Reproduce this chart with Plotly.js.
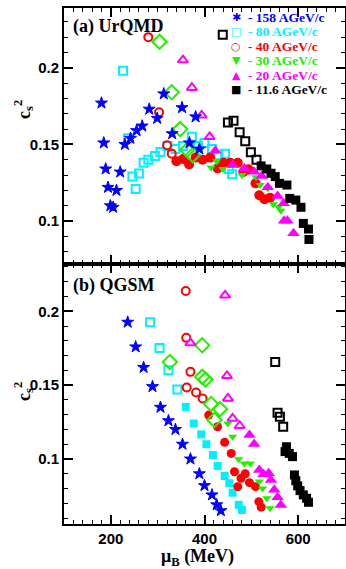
<!DOCTYPE html>
<html>
<head>
<meta charset="utf-8">
<script src="https://cdn.plot.ly/plotly-3.0.1.min.js"></script>
<style>html,body{margin:0;padding:0;background:#fff;}#chart{width:346px;height:569px;}</style>
</head>
<body>
<div id="chart"></div>
<script>
// ---------- (a) UrQMD ----------
var uq158x = [180,185,189,194,199,205,212,220,230,242,255,267,282,299,313,331,352,368,381,389];
var uq158y = [0.177,0.151,0.134,0.122,0.110,0.109,0.120,0.132,0.150,0.154,0.159,0.162,0.173,0.167,0.183,0.157,0.174,0.151,0.168,0.147];
var uq80x = [226,237,246,253,260,270,280,294,306,321,338,354,373,386,400,416,430,444,452,459];
var uq80y = [0.198,0.154,0.129,0.121,0.131,0.138,0.140,0.1425,0.145,0.149,0.147,0.149,0.155,0.149,0.151,0.147,0.143,0.144,0.134,0.1305];
var uq40openX = [280,303,320,330];
var uq40openY = [0.220,0.171,0.1495,0.144];
var uq40x = [340,354,367,381,396,412,428,440,455,471,483,494,509,517,528,540];
var uq40y = [0.139,0.1405,0.137,0.1414,0.140,0.1414,0.1344,0.138,0.138,0.138,0.132,0.1338,0.1246,0.1168,0.1142,0.1152];
var uq30openX = [304,330,348,363,375];
var uq30openY = [0.217,0.184,0.160,0.1464,0.143];
var uq30x = [414,426,439,480,510,519,535,547,558,563];
var uq30y = [0.135,0.139,0.134,0.130,0.1286,0.1235,0.1214,0.111,0.109,0.1067];
var uq20openX = [354,373,394,411];
var uq20openY = [0.205,0.187,0.169,0.155];
var uq20x = [423,460,485,506,522,535,556,569,570,577,590];
var uq20y = [0.1458,0.1366,0.1344,0.1322,0.1294,0.122,0.1163,0.1116,0.1002,0.1002,0.092];
var uq116openX = [439,450,462,475,487,499,511];
var uq116openY = [0.2216,0.1643,0.1654,0.158,0.152,0.1449,0.140];
var uq116x = [521,533,542,551,560,576,582,595,606,611,622,623];
var uq116y = [0.136,0.134,0.1312,0.129,0.1246,0.1235,0.1148,0.1137,0.109,0.0985,0.0948,0.088];

// ---------- (b) QGSM ----------
var qg158x = [236,253,270,289,306,323,338,353,370,389,400,416,426,435];
var qg158y = [0.1926,0.1759,0.162,0.149,0.135,0.1259,0.120,0.110,0.100,0.090,0.082,0.0757,0.069,0.065];
var qg80openX = [284,304,323,342];
var qg80openY = [0.1926,0.1752,0.160,0.147];
var qg80x = [360,377,393,404,418,428,443,453,460,473,480];
var qg80y = [0.1353,0.124,0.1167,0.110,0.1027,0.0953,0.0885,0.0836,0.0772,0.069,0.0655];
var qg40openX = [360,361,362,370,382,396];
var qg40openY = [0.2137,0.182,0.1484,0.159,0.145,0.141];
var qg40x = [409,428,443,457,464,471,478,487,496,509,516,521];
var qg40y = [0.1297,0.1218,0.1113,0.1038,0.0914,0.0813,0.087,0.090,0.084,0.0813,0.0711,0.0674];
var qg30openX = [326,395,395,402,414,421,433];
var qg30openY = [0.1657,0.177,0.1556,0.1538,0.1372,0.1264,0.1338];
var qg30x = [450,460,473,485,498,517,524,533,540];
var qg30y = [0.124,0.115,0.0998,0.097,0.097,0.0847,0.080,0.0734,0.0667];
var qg20openX = [370,444,448,450,460,475];
var qg20openY = [0.1786,0.2108,0.1563,0.141,0.1275,0.1225];
var qg20x = [496,506,517,526,537,542,549,556,563];
var qg20y = [0.1162,0.1101,0.0926,0.0897,0.0903,0.0858,0.0791,0.0741,0.0689];
var qg116openX = [551,556,561,568];
var qg116openY = [0.1657,0.1313,0.1286,0.1218];
var qg116x = [572,575,581,588,592,595,599,604,611,618,622];
var qg116y = [0.105,0.1083,0.1038,0.1016,0.0892,0.0853,0.0818,0.0786,0.0757,0.0734,0.0707];

// ---------- legend ----------
var legendLabels = ["- 158 AGeV/c","- 80 AGeV/c","- 40 AGeV/c","- 30 AGeV/c","- 20 AGeV/c","- 11.6 AGeV/c"];
var legendSymbols = ["\u2731","\u25A1","\u25CB","\u25BC","\u25B2","\u25A0"];
var legendColors = ["#0000ff","#00f0ff","#ff0000","#22ee00","#ff00ff","#000000"];
var xTickVals = [200,400,600];

var BLUE="#0000ff", CYAN="#00f0ff", RED="#ff0000", GREEN="#22ee00", MAG="#ff00ff", BLK="#000000";

function tr(x,y,ax,sym,col,size,open){
  var m = {symbol:sym,size:size,color:col,line:{color:col,width:open?2:0}};
  if(sym==='star'){m.line={color:col,width:1};}
  return {type:'scatter',mode:'markers',x:x,y:y,xaxis:ax[0],yaxis:ax[1],marker:m,showlegend:false,hoverinfo:'x+y'};
}
var A=['x','y'], B=['x2','y2'];
var data = [
  tr(uq80x,uq80y,A,'square-open',CYAN,8,true),
  tr(uq40openX,uq40openY,A,'circle-open',RED,8,true),
  tr(uq40x,uq40y,A,'circle',RED,10,false),
  tr(uq30openX,uq30openY,A,'diamond-open',GREEN,11,true),
  tr(uq30x,uq30y,A,'triangle-down',GREEN,8,false),
  tr(uq20openX,uq20openY,A,'triangle-up-open',MAG,9,true),
  tr(uq20x,uq20y,A,'triangle-up',MAG,11,false),
  tr(uq116openX,uq116openY,A,'square-open',BLK,8,true),
  tr(uq116x,uq116y,A,'square',BLK,9,false),
  tr(uq158x,uq158y,A,'star',BLUE,9,false),

  tr(qg80openX,qg80openY,B,'square-open',CYAN,8,true),
  tr(qg80x,qg80y,B,'square',CYAN,8,false),
  tr(qg40openX,qg40openY,B,'circle-open',RED,8,true),
  tr(qg40x,qg40y,B,'circle',RED,9,false),
  tr(qg30openX,qg30openY,B,'diamond-open',GREEN,11,true),
  tr(qg30x,qg30y,B,'triangle-down',GREEN,8,false),
  tr(qg20openX,qg20openY,B,'triangle-up-open',MAG,9,true),
  tr(qg20x,qg20y,B,'triangle-up',MAG,11,false),
  tr(qg116openX,qg116openY,B,'square-open',BLK,8,true),
  tr(qg116x,qg116y,B,'square',BLK,9,false),
  tr(qg158x,qg158y,B,'star',BLUE,9,false)
];

var W=346,H=569,ML=64,MR=1,MT=8,MB=45;
var PW=W-ML-MR, PH=H-MT-MB;
function px2x(p){return (p-ML)/PW;}
function px2y(p){return (H-MB-p)/PH;}
var split = px2y(264);

var tickFont={family:'Liberation Sans, Arial, sans-serif',size:15,color:'#000',weight:'bold'};
function xax(showLabels, anchor){
  return {domain:[0,1],range:[100,700],anchor:anchor,tickvals:xTickVals,ticktext:xTickVals.map(String),
    showticklabels:showLabels,ticks:'inside',ticklen:9,tickwidth:2,tickcolor:'#000',
    mirror:'allticks',showline:true,linecolor:'#000',linewidth:2,showgrid:false,zeroline:false,
    minor:{dtick:20,tick0:0,ticks:'inside',ticklen:4,tickwidth:1,tickcolor:'#000',showgrid:false},
    tickfont:tickFont};
}
function yax(dom,rng,anchor){
  return {domain:dom,range:rng,anchor:anchor,tick0:0,dtick:0.05,
    ticks:'inside',ticklen:9,tickwidth:2,tickcolor:'#000',mirror:'allticks',showline:true,
    linecolor:'#000',linewidth:2,showgrid:false,zeroline:false,
    minor:{dtick:0.01,tick0:0,ticks:'inside',ticklen:4,tickwidth:1,tickcolor:'#000',showgrid:false},
    tickfont:tickFont};
}

var serif='Liberation Serif, Times New Roman, serif';
var ann=[
  {xref:'paper',yref:'paper',x:px2x(71),y:px2y(27),xanchor:'left',yanchor:'middle',showarrow:false,
   text:'<b>(a) UrQMD</b>',font:{family:serif,size:18,color:'#000'}},
  {xref:'paper',yref:'paper',x:px2x(71),y:px2y(285),xanchor:'left',yanchor:'middle',showarrow:false,
   text:'<b>(b) QGSM</b>',font:{family:serif,size:18,color:'#000'}},
  {xref:'paper',yref:'paper',x:px2x(23),y:px2y(110),xanchor:'center',yanchor:'middle',showarrow:false,textangle:-90,
   text:'<b>c<sub>s</sub><sup>2</sup></b>',font:{family:serif,size:18,color:'#000'}},
  {xref:'paper',yref:'paper',x:px2x(23),y:px2y(392),xanchor:'center',yanchor:'middle',showarrow:false,textangle:-90,
   text:'<b>c<sub>s</sub><sup>2</sup></b>',font:{family:serif,size:18,color:'#000'}},
  {xref:'paper',yref:'paper',x:px2x(197),y:px2y(557),xanchor:'center',yanchor:'middle',showarrow:false,
   text:'<b>\u03bc<sub>B</sub> (MeV)</b>',font:{family:serif,size:18,color:'#000'}}
];
var rowY=[17,31.5,46,60.5,75,89.5];
for(var i=0;i<legendLabels.length;i++){
  ann.push({xref:'paper',yref:'paper',x:px2x(236),y:px2y(rowY[i]),xanchor:'center',yanchor:'middle',showarrow:false,
    text:legendSymbols[i],font:{family:'DejaVu Sans, sans-serif',size:11,color:legendColors[i]}});
  ann.push({xref:'paper',yref:'paper',x:px2x(246),y:px2y(rowY[i]),xanchor:'left',yanchor:'middle',showarrow:false,
    text:'<b>'+legendLabels[i]+'</b>',font:{family:serif,size:13.5,color:legendColors[i]}});
}

var layout={
  width:W,height:H,margin:{l:ML,r:MR,t:MT,b:MB},
  paper_bgcolor:'#fff',plot_bgcolor:'#fff',showlegend:false,
  xaxis:xax(false,'y'),
  yaxis:yax([split,1],[0.072,0.239],'x'),
  xaxis2:xax(true,'y2'),
  yaxis2:yax([0,split],[0.056,0.232],'x2'),
  annotations:ann
};
Plotly.newPlot('chart',data,layout,{staticPlot:true,displayModeBar:false});
</script>
</body>
</html>
